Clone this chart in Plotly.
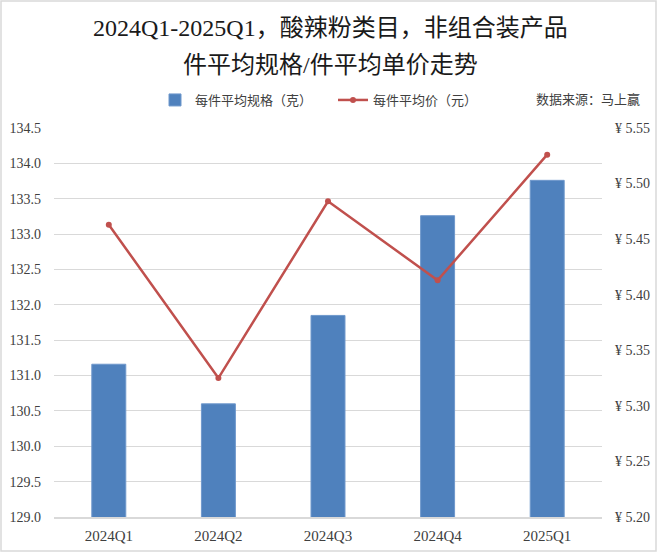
import plotly.graph_objects as go

categories = ["2024Q1", "2024Q2", "2024Q3", "2024Q4", "2025Q1"]
avg_spec = [131.16, 130.60, 131.85, 133.26, 133.76]
avg_price = [5.463, 5.325, 5.484, 5.413, 5.526]

title_lines = ["2024Q1-2025Q1，酸辣粉类目，非组合装产品", "件平均规格/件平均单价走势"]
bar_name = "每件平均规格（克）"
line_name = "每件平均价（元）"
source_text = "数据来源：马上赢"

W, H = 660, 553
L, R, T, B = 54, 58, 128, 36
pw, ph = W - L - R, H - T - B

serif = "Liberation Serif, Times New Roman, Noto Sans CJK SC, serif"
cjk = "Liberation Serif, Noto Sans CJK SC, serif"

fig = go.Figure()
fig.add_trace(go.Bar(
    x=categories, y=avg_spec, name=bar_name,
    marker=dict(color="#4F81BD", line=dict(color="#6F98CC", width=1)),
    width=0.31, yaxis="y",
))
fig.add_trace(go.Scatter(
    x=categories, y=avg_price, name=line_name, mode="lines+markers",
    line=dict(color="#C0504D", width=2.5),
    marker=dict(color="#C0504D", size=6),
    yaxis="y2",
))

fig.update_layout(
    width=W, height=H,
    margin=dict(l=L, r=R, t=T, b=B),
    paper_bgcolor="white", plot_bgcolor="white",
    font=dict(family=serif, size=13, color="#404040"),
    showlegend=True,
    legend=dict(
        orientation="h", x=(155 - L) / pw, y=1 + 28 / ph,
        xanchor="left", yanchor="middle",
        font=dict(family=cjk, size=13, color="#404040"),
        bgcolor="rgba(0,0,0,0)", itemwidth=30,
        entrywidth=133, entrywidthmode="pixels",
        traceorder="normal",
    ),
    xaxis=dict(
        type="category", showgrid=False, zeroline=False,
        showline=True, linecolor="#D9D9D9", linewidth=1.5,
        ticks="", ticklabelstandoff=4, automargin=False,
        tickfont=dict(family=serif, size=15, color="#404040"),
        range=[-0.5, 4.5],
    ),
    yaxis=dict(
        range=[129, 134.5], dtick=0.5, tickformat=".1f",
        showgrid=True, gridcolor="#D9D9D9", gridwidth=1,
        zeroline=False, showline=False, ticks="",
        ticklabelstandoff=12, automargin=False,
        tickfont=dict(family=serif, size=14, color="#404040"),
    ),
    yaxis2=dict(
        range=[5.20, 5.55], dtick=0.05, tickformat=".2f", tickprefix="¥ ",
        overlaying="y", side="right", showgrid=False, zeroline=False,
        showline=False, ticks="", ticklabelstandoff=12, automargin=False,
        tickfont=dict(family=serif, size=14, color="#404040"),
    ),
    annotations=[
        dict(text=title_lines[0], xref="paper", yref="paper",
             x=(330 - L) / pw, y=1 + (128 - 28) / ph, xanchor="center", yanchor="middle",
             showarrow=False, font=dict(family=cjk, size=24, color="#1a1a1a")),
        dict(text=title_lines[1], xref="paper", yref="paper",
             x=(330 - L) / pw, y=1 + (128 - 65) / ph, xanchor="center", yanchor="middle",
             showarrow=False, font=dict(family=cjk, size=24, color="#1a1a1a")),
        dict(text=source_text, xref="paper", yref="paper",
             x=(642 - L) / pw, y=1 + 28 / ph, xanchor="right", yanchor="middle",
             showarrow=False, font=dict(family=cjk, size=13, color="#404040")),
    ],
    shapes=[
        dict(type="rect", xref="paper", yref="paper",
             x0=(1 - L) / pw, x1=(656 - L) / pw,
             y0=(T + ph - 551) / ph, y1=(T + ph - 1) / ph,
             line=dict(color="#D9D9D9", width=1.5), fillcolor="rgba(0,0,0,0)",
             layer="below"),
    ],
)

fig.write_html(
    "out.html",
    config={"displayModeBar": False},
    post_script="document.body.style.margin='0';document.body.style.overflow='hidden';",
)
